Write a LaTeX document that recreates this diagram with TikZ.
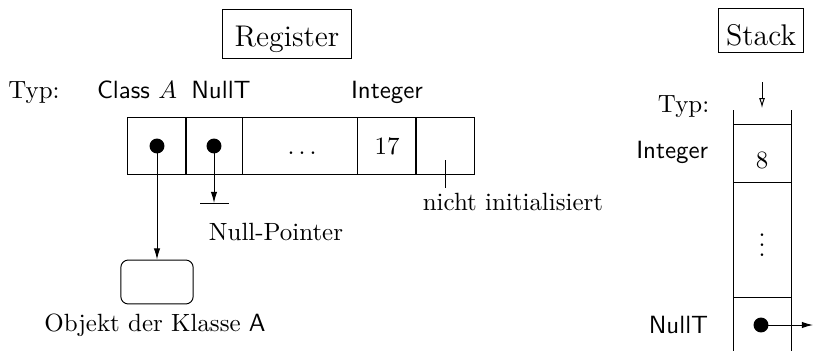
\documentclass[tikz,border=0pt]{standalone}
\usetikzlibrary{arrows.meta}
\begin{document}
\begin{tikzpicture}[x=0.0141cm,y=-0.0141cm,
		zelle/.style={draw,inner sep=0pt,minimum width=#1,minimum height=0.8cm},
		punkt/.style={circle,fill,inner sep=0pt,minimum size=6pt},
		typ/.style={anchor=base,font=\sffamily},
		titel/.style={draw,anchor=base,inner sep=0pt,font=\large},
		ptr/.style={-{Latex[length=4.5pt,width=2.6pt]}}]
		\useasboundingbox (0,0) rectangle (813,351);
		
		\node[titel,minimum width=1.83cm,text height=0.52cm,text depth=0.18cm] at (287,46) (register) {Register};
		\node[titel,minimum width=1.21cm,text height=0.51cm,text depth=0.1cm] at (761,45) (stack) {Stack};
		
		\node[anchor=base] at (34,98) (typ1) {Typ:};
		\node[typ] at (137,98) (classA) {Class $A$};
		\node[typ] at (221,98) (nullt1) {NullT};
		\node[typ] at (387,98) (int1) {Integer};
		
		\node[zelle=0.82cm] at (157,146) (z1) {};
		\node[zelle=0.80cm] at (214,146) (z2) {};
		\node[zelle=1.62cm] at (300,146) (z3) {$\vphantom{1}\ldots$};
		\node[zelle=0.82cm] at (387,146) (z4) {17};
		\node[zelle=0.82cm] at (445,146) (z5) {};
		
		\node[punkt] at (157,146) (p1) {};
		\node[punkt] at (214,146) (p2) {};
		
		\node[draw,rounded corners=3pt,minimum width=1.02cm,minimum height=0.62cm] at (157,282) (objekt) {};
		\node[anchor=base] at (155,331) (objtext) {Objekt der Klasse \textsf{A}};
		
		\coordinate (null) at (214,203);
		\coordinate (nulll) at (200,203);
		\coordinate (nullr) at (229,203);
		\node[anchor=base] at (276,240) (nulltext) {Null-Pointer};
		
		\coordinate (nio) at (445,160);
		\coordinate (niu) at (445,188);
		\node[anchor=base] at (513,210) (nitext) {nicht initialisiert};
		
		\draw[ptr] (p1.center) -- (objekt.north);
		\draw[ptr] (p2.center) -- (null);
		\draw (nulll) -- (nullr);
		\draw (nio) -- (niu);
		
		\coordinate (wl1) at (733,110);
		\coordinate (wl2) at (733,351);
		\coordinate (wr1) at (791,110);
		\coordinate (wr2) at (791,351);
		\coordinate (s1l) at (733,124);
		\coordinate (s1r) at (791,124);
		\coordinate (s2l) at (733,182);
		\coordinate (s2r) at (791,182);
		\coordinate (s3l) at (733,297);
		\coordinate (s3r) at (791,297);
		\coordinate (push1) at (762,82);
		\coordinate (push2) at (762,108);
		\coordinate (aus) at (813,325);
		
		\node[anchor=base east] at (718,112) (typ2) {Typ:};
		\node[typ,anchor=base east] at (717,158) (int2) {Integer};
		\node[typ,anchor=base east] at (717,333) (nullt2) {NullT};
		
		\node[anchor=base] at (762,168) (acht) {8};
		\node at (762,238) (punkte) {$\vdots$};
		\node[punkt] at (761,325) (p3) {};
		
		\draw (wl1) -- (wl2);
		\draw (wr1) -- (wr2);
		\draw (s1l) -- (s1r);
		\draw (s2l) -- (s2r);
		\draw (s3l) -- (s3r);
		\draw[-{Latex[open,length=4pt,width=2.4pt]}] (push1) -- (push2);
		\draw[ptr] (p3.center) -- (aus);
		\end{tikzpicture}
\end{document}
